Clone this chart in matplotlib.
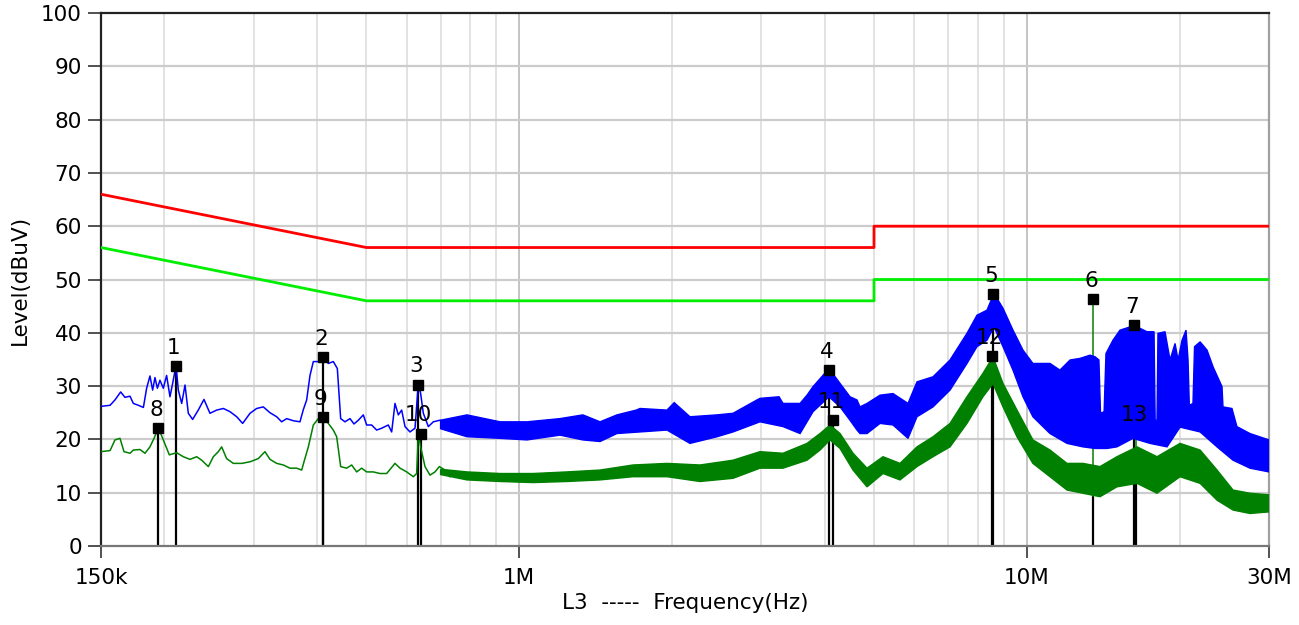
import numpy as np
import matplotlib
matplotlib.use("Agg")
import matplotlib.pyplot as plt
from matplotlib.ticker import NullLocator

# ---- data: frequency in MHz, level in dBuV ----

# limit lines (corner points)
QP_LIMIT_F = [0.15, 0.5, 5.0, 5.0, 30.0]
QP_LIMIT_L = [66.0, 56.0, 56.0, 60.0, 60.0]
AV_LIMIT_F = [0.15, 0.5, 5.0, 5.0, 30.0]
AV_LIMIT_L = [56.0, 46.0, 46.0, 50.0, 50.0]

# peak trace, low-frequency part
PK_F = [0.150, 0.1563, 0.1598, 0.1640, 0.1672, 0.1711, 0.1737, 0.1777, 0.1818, 0.1845,
        0.1873, 0.1896, 0.1916, 0.1937, 0.1960, 0.1990, 0.2020, 0.2051, 0.2076, 0.2108,
        0.2130, 0.2163, 0.2196, 0.2229, 0.2273, 0.2332, 0.2393, 0.2459, 0.2535, 0.2613,
        0.2693, 0.2776, 0.2852, 0.2949, 0.3039, 0.3132, 0.3229, 0.3328, 0.3404, 0.3482,
        0.3589, 0.3699, 0.3756, 0.3813, 0.3871, 0.3930, 0.4020, 0.4106, 0.4207, 0.4303,
        0.4382, 0.4449, 0.4537, 0.4641, 0.4726, 0.4820, 0.4930, 0.5006, 0.5120, 0.5238,
        0.5358, 0.5522, 0.5607, 0.5692, 0.5779, 0.5867, 0.5957, 0.6093, 0.6233, 0.6328,
        0.6395, 0.6473, 0.6622, 0.6773, 0.6982, 0.7196, 0.7306]
PK_L = [26.2, 26.4, 27.4, 28.9, 27.9, 28.1, 26.75, 26.4, 26.0, 29.6,
        31.9, 29.25, 31.6, 29.6, 31.1, 29.6, 32.0, 28.0, 30.5, 33.9,
        29.25, 26.75, 30.2, 24.9, 23.75, 25.5, 27.5, 24.9, 25.5, 25.8,
        25.2, 24.25, 23.0, 24.9, 25.8, 26.1, 25.0, 24.25, 23.3, 23.9,
        23.5, 23.3, 25.6, 27.4, 32.0, 34.6, 34.6, 35.5, 34.25, 34.6,
        33.3, 23.9, 23.3, 23.9, 22.9, 23.6, 24.6, 22.7, 22.7, 21.75,
        22.1, 22.7, 21.4, 26.75, 24.6, 25.5, 22.4, 21.4, 22.1, 30.5,
        28.6, 24.9, 22.4, 23.3, 23.6, 22.4, 22.5]

# average trace, low-frequency part
AV_F = [0.150, 0.1563, 0.1598, 0.1635, 0.1665, 0.1711, 0.1737, 0.1790, 0.1831, 0.1873,
        0.1908, 0.1946, 0.1990, 0.2045, 0.2114, 0.2179, 0.2246, 0.2315, 0.2368, 0.2441,
        0.2497, 0.2554, 0.2593, 0.2652, 0.2734, 0.2839, 0.2949, 0.3062, 0.3156, 0.3229,
        0.3328, 0.3430, 0.3535, 0.3644, 0.3728, 0.3767, 0.3842, 0.3930, 0.4020, 0.4106,
        0.4207, 0.4303, 0.4369, 0.4449, 0.4571, 0.4676, 0.4784, 0.4893, 0.5006, 0.5159,
        0.5318, 0.5481, 0.5692, 0.5823, 0.6002, 0.6186, 0.6280, 0.6328, 0.6395, 0.6522,
        0.6672, 0.6825, 0.6960, 0.7142, 0.7306]
AV_L = [17.7, 17.9, 19.9, 20.2, 17.7, 17.4, 18.0, 18.1, 17.4, 18.6,
        20.2, 22.2, 19.9, 17.1, 17.5, 16.75, 16.25, 16.75, 16.1, 14.9,
        16.75, 17.7, 18.6, 16.4, 15.5, 15.5, 15.8, 16.4, 17.7, 16.25,
        15.5, 15.2, 14.6, 14.6, 14.25, 15.8, 18.6, 22.7, 23.9, 24.25,
        23.0, 21.75, 20.5, 14.9, 14.6, 15.2, 13.9, 14.6, 13.9, 13.9,
        13.6, 13.6, 15.5, 14.6, 13.9, 13.0, 13.6, 21.1, 18.6, 14.9,
        13.3, 13.9, 14.9, 14.25, 13.0]

# peak trace above 0.7 MHz: upper and lower edges of the noise band
PK_TOP_F = [0.700, 0.789, 0.917, 1.036, 1.203, 1.335, 1.443, 1.558, 1.70, 1.73,
            1.955, 2.02, 2.17, 2.453, 2.638, 2.94, 2.981, 3.25, 3.309, 3.575,
            3.69, 3.792, 4.077, 4.286, 4.484, 4.629, 4.692, 4.844, 5.138, 5.45,
            5.834, 6.077, 6.535, 7.059, 7.623, 7.977, 8.347, 8.617, 8.976, 9.392,
            9.828, 10.28, 11.11, 11.62, 12.17, 12.73, 13.32, 13.63, 13.87, 13.97,
            14.20, 14.32, 14.78, 15.26, 15.97, 16.26, 16.49, 17.25, 17.81, 17.90,
            18.05, 18.13, 18.72, 19.15, 19.59, 19.86, 20.22, 20.59, 20.78, 20.90,
            21.25, 21.40, 21.95, 22.65, 23.28, 24.24, 24.35, 25.36, 25.94, 27.52,
            30.0]
PK_TOP_L = [23.6, 24.6, 23.3, 23.3, 23.9, 24.6, 23.3, 24.6, 25.5, 25.8,
            25.5, 26.9, 24.25, 24.6, 24.9, 27.4, 27.7, 28.0, 26.75, 26.75,
            28.3, 29.9, 33.3, 30.5, 28.0, 27.4, 26.1, 26.75, 28.3, 28.6,
            26.75, 30.8, 31.75, 34.9, 39.9, 43.3, 44.25, 47.4, 44.6, 40.5,
            36.75, 34.25, 34.25, 33.0, 34.9, 35.2, 35.8, 35.5, 34.9, 24.9,
            25.2, 36.1, 38.6, 40.5, 41.1, 41.5, 41.1, 40.2, 40.2, 23.6,
            23.6, 39.9, 40.2, 34.9, 38.0, 34.9, 38.6, 40.5, 34.9, 26.4,
            26.75, 37.4, 38.3, 36.75, 33.6, 29.9, 26.1, 25.8, 22.4, 21.1,
            19.9]
PK_BOT_F = [0.700, 0.789, 0.917, 1.036, 1.203, 1.335, 1.443, 1.558, 1.73, 1.955,
            2.17, 2.453, 2.638, 2.981, 3.309, 3.575, 3.792, 4.077, 4.286, 4.484,
            4.629, 4.692, 4.844, 5.138, 5.45, 5.834, 6.077, 6.535, 7.059, 7.623,
            7.977, 8.347, 8.617, 8.976, 9.392, 9.828, 10.28, 11.11, 12.0, 12.9,
            13.63, 14.39, 15.05, 16.19, 17.49, 18.89, 20.04, 21.95, 23.70, 25.48,
            27.52, 30.0]
PK_BOT_L = [22.0, 20.5, 20.2, 19.9, 20.8, 19.9, 19.6, 21.1, 21.4, 21.75,
            19.25, 20.5, 21.4, 23.3, 22.4, 21.1, 25.2, 28.0, 26.1, 23.6,
            21.75, 21.1, 21.1, 23.0, 22.7, 20.2, 24.25, 26.1, 29.25, 34.25,
            37.4, 38.6, 41.1, 37.4, 33.0, 28.0, 24.25, 21.1, 19.25, 18.6,
            18.3, 18.3, 18.6, 20.2, 19.25, 18.6, 22.3, 21.4, 18.6, 16.1,
            14.6, 13.9]

# average trace above 0.7 MHz: upper and lower edges of the noise band
AV_BAND_F = [0.700, 0.789, 0.917, 1.065, 1.242, 1.443, 1.676, 1.955, 2.271, 2.638,
             2.981, 3.309, 3.690, 3.914, 4.095, 4.286, 4.546, 4.844, 5.208, 5.626,
             6.077, 6.535, 7.059, 7.623, 8.197, 8.578, 8.976, 9.564, 10.28, 11.11,
             12.0, 12.9, 13.94, 15.05, 16.49, 18.05, 20.04, 21.95, 23.70, 25.48,
             27.52, 30.0]
AV_TOP_L = [14.4, 13.9, 13.6, 13.6, 13.9, 14.25, 15.2, 15.5, 15.2, 16.1,
            17.7, 17.4, 19.25, 21.1, 22.7, 21.1, 17.4, 14.6, 16.75, 15.5,
            18.6, 20.5, 23.0, 28.0, 32.4, 35.5, 30.5, 25.5, 19.9, 18.0,
            15.5, 15.5, 14.9, 16.75, 18.6, 16.75, 19.25, 18.0, 14.25, 10.5,
            9.9, 9.6]
AV_BOT_L = [13.4, 12.4, 12.1, 11.9, 12.1, 12.4, 13.0, 13.0, 12.1, 12.7,
            14.6, 14.6, 16.1, 18.0, 19.9, 18.3, 14.25, 11.1, 13.6, 12.4,
            14.9, 16.75, 18.6, 23.0, 28.0, 30.5, 26.1, 20.5, 15.5, 13.0,
            10.5, 9.9, 9.25, 11.1, 11.75, 9.9, 13.0, 11.75, 8.6, 6.75,
            6.1, 6.4]

# markers: 1-7 on the peak trace, 8-13 on the average trace
MARK_NO = ["1", "2", "3", "4", "5", "6", "7", "8", "9", "10", "11", "12", "13"]
MARK_F = [0.2108, 0.4106, 0.6328, 4.077, 8.59, 13.50, 16.26,
          0.1946, 0.4106, 0.6395, 4.152, 8.52, 16.41]
MARK_L = [33.7, 35.5, 30.3, 33.0, 47.2, 46.3, 41.5,
          22.2, 24.2, 21.1, 23.6, 35.7, 21.1]
MARK_SQUARE = [True] * 12 + [False]
# level above which a marker stem is drawn in green
STEM_SPLIT = [None, None, None, None, None, 9.3, None,
              None, None, None, None, None, 17.4]

X_TICKS = [0.15, 1.0, 10.0, 30.0]
X_TICK_LABELS = ["150k", "1M", "10M", "30M"]
Y_TICKS = list(range(0, 101, 10))

# ---- figure ----
W, H = 1299, 625
fig = plt.figure(figsize=(W / 100, H / 100), dpi=100)
ax = fig.add_axes([101 / W, 79 / H, 1168 / W, 533 / H])
ax.set_xscale("log")
ax.set_xlim(0.15, 30)
ax.set_ylim(0, 100)

FS = 15.5
BLUE = "#0000ff"
DKGREEN = "#008000"

# grid
for d in (0.1, 1.0):
    for m in range(2, 10):
        f = m * d
        if 0.15 < f < 30:
            ax.axvline(f, color="#e2e2e2", lw=1.4, zorder=0)
ax.axvline(20, color="#e2e2e2", lw=1.4, zorder=0)
for f in (1.0, 10.0):
    ax.axvline(f, color="#c4c4c4", lw=1.4, zorder=0)
for y in range(10, 100, 10):
    ax.axhline(y, color="#cccccc", lw=1.6, zorder=0)

# marker stems (under the traces)
for f, lv, split in zip(MARK_F, MARK_L, STEM_SPLIT):
    if split is None:
        ax.plot([f, f], [0, lv], color="black", lw=1.6, zorder=2)
    else:
        ax.plot([f, f], [0, split], color="black", lw=1.6, zorder=2)
        ax.plot([f, f], [split, lv], color=DKGREEN, lw=1.1, zorder=2)

# average trace
ax.plot(AV_F, AV_L, color=DKGREEN, lw=1.1, zorder=3)
ax.fill(np.concatenate([AV_BAND_F, AV_BAND_F[::-1]]),
        np.concatenate([AV_TOP_L, AV_BOT_L[::-1]]),
        facecolor=DKGREEN, edgecolor=DKGREEN, lw=1.0, zorder=3)

# peak trace
ax.plot(PK_F, PK_L, color=BLUE, lw=1.1, zorder=3.5)
ax.fill(np.concatenate([PK_TOP_F, PK_BOT_F[::-1]]),
        np.concatenate([PK_TOP_L, PK_BOT_L[::-1]]),
        facecolor=BLUE, edgecolor=BLUE, lw=1.0, zorder=3.5)

# limit lines
ax.plot(QP_LIMIT_F, QP_LIMIT_L, color="#ff0000", lw=2.0, zorder=4)
ax.plot(AV_LIMIT_F, AV_LIMIT_L, color="#00ee00", lw=2.0, zorder=4)

# marker squares and numbers
for no, f, lv, sq in zip(MARK_NO, MARK_F, MARK_L, MARK_SQUARE):
    if sq:
        ax.plot([f], [lv], marker="s", ms=6.5, color="black", zorder=5)
    ax.annotate(no, (f, lv), xytext=(-1.5, 13), textcoords="offset points",
                ha="center", va="center", fontsize=FS, color="black", zorder=6)

# axes styling
ax.set_xticks(X_TICKS)
ax.set_xticklabels(X_TICK_LABELS)
ax.xaxis.set_minor_locator(NullLocator())
ax.set_yticks(Y_TICKS)
ax.tick_params(axis="x", direction="out", length=8.5, width=1.2, pad=7,
               labelsize=FS, color="#333333")
ax.tick_params(axis="y", direction="out", length=9.4, width=1.2, pad=4.3,
               labelsize=FS, color="#333333")

ax.spines["left"].set_color("#222222")
ax.spines["top"].set_color("#222222")
ax.spines["bottom"].set_color("#777777")
ax.spines["right"].set_color("#a0a0a0")
for s in ax.spines.values():
    s.set_linewidth(1.6)

ax.set_ylabel("Level(dBuV)", fontsize=FS, labelpad=8)
ax.set_xlabel("L3  -----  Frequency(Hz)", fontsize=FS, labelpad=4)

fig.savefig("out.png", dpi=100)
